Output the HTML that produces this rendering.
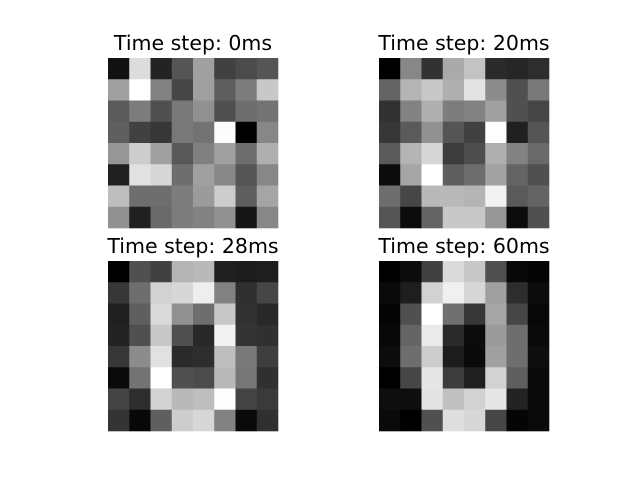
<!DOCTYPE html>
<html><head><meta charset="utf-8"><style>html,body{margin:0;padding:0;background:#fff;}svg{display:block;}</style></head>
<body>
<svg id="fig" width="640" height="484" xmlns="http://www.w3.org/2000/svg"></svg>
<script>
const titles = ["Time step: 0ms","Time step: 20ms","Time step: 28ms","Time step: 60ms"];
const grid0 = [
[18,220,35,85,160,65,75,85],[160,255,130,70,160,95,125,200],[90,125,80,120,145,80,110,115],[95,65,55,120,115,252,0,135],
[150,205,160,88,128,160,110,175],[32,225,215,110,160,135,85,135],[190,110,110,125,155,205,95,165],[145,32,105,125,130,145,22,135]];
const grid1 = [
[0,135,50,170,195,42,38,45],[100,180,200,175,228,140,80,120],[50,130,175,125,130,160,80,70],[55,90,145,85,65,253,32,85],
[90,180,215,60,78,175,130,105],[12,165,255,95,110,162,100,80],[110,70,185,185,180,242,90,100],[85,12,100,200,200,150,12,80]];
const grid2 = [
[0,80,65,180,185,32,28,30],[55,110,210,215,238,130,48,70],[32,95,218,145,110,200,50,40],[35,80,200,80,40,242,52,48],
[55,140,225,42,45,190,120,62],[10,115,255,80,75,185,118,48],[68,45,210,185,190,253,68,58],[52,8,95,205,215,130,10,48]];
const grid3 = [
[0,12,65,218,200,80,8,5],[10,30,210,240,215,160,45,12],[5,80,255,112,55,165,70,8],[8,100,235,42,12,155,110,10],
[12,110,205,28,10,160,110,14],[0,70,230,60,32,210,95,10],[14,14,228,192,210,230,35,10],[10,0,80,222,215,70,5,10]];
const grids = [grid0,grid1,grid2,grid3];

const NS="http://www.w3.org/2000/svg";
const svg=document.getElementById('fig');
const origins=[[108,58],[379,58],[108,261],[379,261]];
const size=170;
grids.forEach((g,p)=>{
  const [ox,oy]=origins[p];
  const grp=document.createElementNS(NS,'g');
  
  
  svg.appendChild(grp);
  const n=g.length, cs=size/n;
  g.forEach((row,r)=>row.forEach((v,c)=>{
    const rc=document.createElementNS(NS,'rect');
    rc.setAttribute('x',ox+c*cs);rc.setAttribute('y',oy+r*cs);
    rc.setAttribute('width',cs+0.3);rc.setAttribute('height',cs+0.3);
    rc.setAttribute('fill',`rgb(${v},${v},${v})`);
    
    
    grp.appendChild(rc);
  }));
  const t=document.createElementNS(NS,'text');
  t.setAttribute('x',ox+size/2);t.setAttribute('y',oy-8);
  t.setAttribute('text-anchor','middle');
  t.setAttribute('font-family','DejaVu Sans, Liberation Sans, sans-serif');
  t.setAttribute('font-size','20.5');
  t.textContent=titles[p];
  
  
  svg.appendChild(t);
});
</script>
</body></html>
